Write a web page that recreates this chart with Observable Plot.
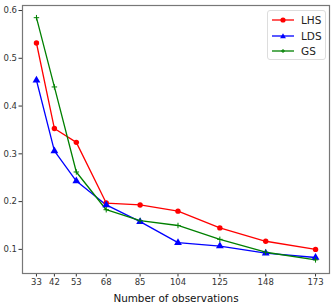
<!DOCTYPE html>
<html><head><meta charset="utf-8">
<script src="https://cdn.jsdelivr.net/npm/d3@7"></script>
<script src="https://cdn.jsdelivr.net/npm/@observablehq/plot@0.6"></script>
<style>
body{margin:0;background:#fff;}
#wrap{position:relative;width:336px;height:304px;font-family:"DejaVu Sans",sans-serif;}
#legend{position:absolute;left:267px;top:10px;width:57px;height:48px;border:1px solid #ddd;border-radius:3px;background:#fff;font-size:10.5px;color:#222;}
</style>
</head><body><div id="wrap"></div>
<script>
const observations = [33, 42, 53, 68, 85, 104, 125, 148, 173];
const seriesNames = ["LHS", "LDS", "GS"];
const lhs = [0.532, 0.353, 0.324, 0.197, 0.193, 0.180, 0.145, 0.117, 0.100];
const lds = [0.454, 0.306, 0.243, 0.193, 0.158, 0.114, 0.107, 0.092, 0.083];
const gs  = [0.585, 0.440, 0.262, 0.183, 0.160, 0.150, 0.121, 0.094, 0.078];
const yTicks = [0.1, 0.2, 0.3, 0.4, 0.5, 0.6];
const colors = {LHS: "#ff0000", LDS: "#0000ff", GS: "#008000"};

const values = {LHS: lhs, LDS: lds, GS: gs};
const data = seriesNames.flatMap(s => observations.map((n, i) => ({series: s, n, v: values[s][i]})));
const sub = s => data.filter(d => d.series === s);

const chart = Plot.plot({
  width: 336, height: 304,
  marginLeft: 22, marginRight: 7, marginTop: 5, marginBottom: 31,
  style: {fontFamily: "DejaVu Sans, sans-serif", fontSize: "8.5px", color: "#333", background: "#fff"},
  x: {domain: [26, 180], ticks: observations, tickSize: 3.5, tickPadding: 2, label: "Number of observations", labelAnchor: "center", labelArrow: "none", labelOffset: 28},
  y: {domain: [0.0495, 0.6105], ticks: yTicks, tickSize: 3.5, tickPadding: 2, label: null, tickFormat: d3.format(".1f")},
  marks: [
    Plot.frame({stroke: "#777", strokeWidth: 1.2}),
    Plot.line(sub("LHS"), {x: "n", y: "v", stroke: colors.LHS, strokeWidth: 1.3}),
    Plot.line(sub("LDS"), {x: "n", y: "v", stroke: colors.LDS, strokeWidth: 1.3}),
    Plot.line(sub("GS"), {x: "n", y: "v", stroke: colors.GS, strokeWidth: 1.3}),
    Plot.dot(sub("LHS"), {x: "n", y: "v", fill: colors.LHS, r: 2.7, symbol: "circle"}),
    Plot.dot(sub("LDS"), {x: "n", y: "v", fill: colors.LDS, r: 2.9, symbol: "triangle"}),
    Plot.dot(sub("GS"), {x: "n", y: "v", stroke: colors.GS, r: 1.9, symbol: "plus", strokeWidth: 1})
  ]
});
chart.querySelectorAll('[aria-label="x-axis label"] text').forEach(t => {t.style.fontSize = "10.4px"; t.style.fill = "#111";});
const wrap = document.getElementById("wrap");
wrap.appendChild(chart);

const leg = document.createElement("div");
leg.id = "legend";
const sym = {
  LHS: '<circle cx="12" cy="5" r="2.6" fill="#ff0000"/>',
  LDS: '<path d="M12,2.2 L14.9,7.3 L9.1,7.3 Z" fill="#0000ff"/>',
  GS: '<path d="M12,3 V7 M10,5 H14" stroke="#008000" stroke-width="1"/>'
};
leg.innerHTML = seriesNames.map((s, i) =>
  `<div style="position:absolute;left:3px;top:${3 + i * 15.5}px;height:12px;display:flex;align-items:center;">` +
  `<svg width="24" height="10" style="margin-right:6px"><line x1="1" x2="23" y1="5" y2="5" stroke="${colors[s]}" stroke-width="1.3"/>${sym[s]}</svg>` +
  `<span>${s}</span></div>`).join("");
wrap.appendChild(leg);
</script>
</body></html>
